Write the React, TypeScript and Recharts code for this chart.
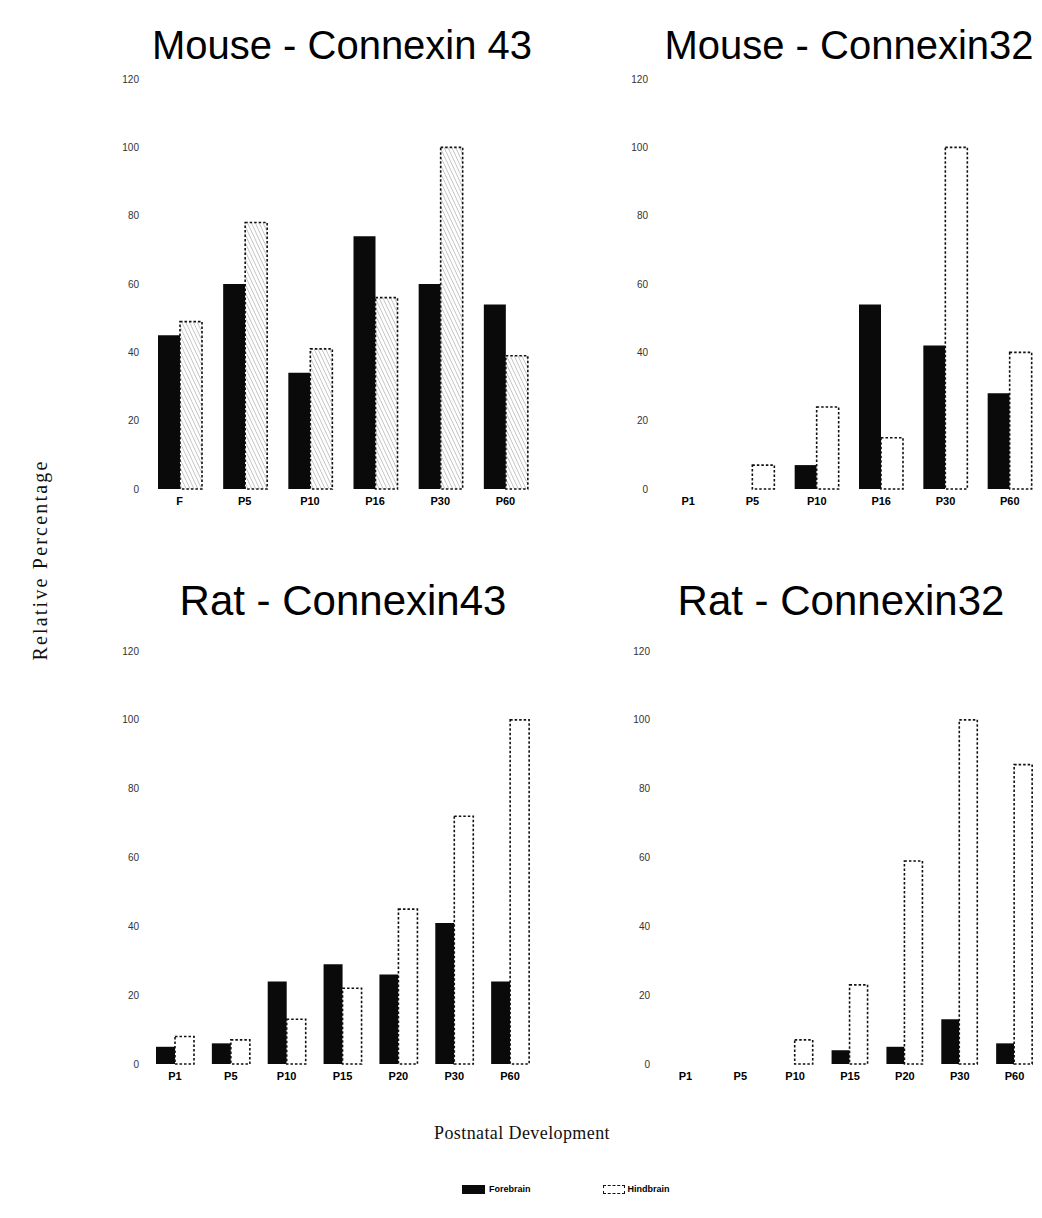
import React from "react";
import { BarChart, Bar, XAxis, YAxis } from "recharts";

// ages (postnatal days) per panel
const mouseAges43 = ["F", "P5", "P10", "P16", "P30", "P60"];
const mouseAges32 = ["P1", "P5", "P10", "P16", "P30", "P60"];
const ratAges = ["P1", "P5", "P10", "P15", "P20", "P30", "P60"];

// relative percentage, forebrain / hindbrain
const mouse43Fore = [45, 60, 34, 74, 60, 54];
const mouse43Hind = [49, 78, 41, 56, 100, 39];
const mouse32Fore = [0, 0, 7, 54, 42, 28];
const mouse32Hind = [0, 7, 24, 15, 100, 40];
const rat43Fore = [5, 6, 24, 29, 26, 41, 24];
const rat43Hind = [8, 7, 13, 22, 45, 72, 100];
const rat32Fore = [0, 0, 0, 4, 5, 13, 6];
const rat32Hind = [0, 0, 7, 23, 59, 100, 87];

const yTicks = [0, 20, 40, 60, 80, 100, 120];

const toRows = (ages: string[], fore: number[], hind: number[]) =>
  ages.map((age, i) => ({ age, fore: fore[i], hind: hind[i] }));

interface PanelProps {
  title: string;
  titleX: number;
  titleY: number;
  titleSize: number;
  data: { age: string; fore: number; hind: number }[];
  left: number;
  top: number;
  width: number;
  height: number;
  barSize: number;
  hindFill: string;
}

const Panel: React.FC<PanelProps> = ({
  title,
  titleX,
  titleY,
  titleSize,
  data,
  left,
  top,
  width,
  height,
  barSize,
  hindFill,
}) => (
  <>
    <div
      style={{
        position: "absolute",
        left: titleX - 250,
        top: titleY,
        width: 500,
        textAlign: "center",
        fontFamily: "Liberation Sans, Arial, sans-serif",
        fontSize: titleSize,
        lineHeight: "46px",
        color: "#000",
        whiteSpace: "nowrap",
      }}
    >
      {title}
    </div>
    <div style={{ position: "absolute", left, top }}>
      <BarChart
        width={width}
        height={height}
        data={data}
        margin={{ top: 19, right: 0, bottom: 0, left: 0 }}
        barGap={0}
        barSize={barSize}
      >
        <XAxis
          dataKey="age"
          axisLine={false}
          tickLine={false}
          height={30}
          interval={0}
          tick={{ fontSize: 11, fontWeight: 700, fill: "#000", fontFamily: "Liberation Sans, Arial, sans-serif" }}
        />
        <YAxis
          domain={[0, 120]}
          ticks={yTicks}
          axisLine={false}
          tickLine={false}
          width={57}
          tick={{ fontSize: 10, fill: "#333", fontFamily: "Liberation Sans, Arial, sans-serif" }}
        />
        <Bar dataKey="fore" fill="#0a0a0a" isAnimationActive={false} />
        <Bar
          dataKey="hind"
          fill={hindFill}
          stroke="#111"
          strokeWidth={1.6}
          strokeDasharray="2.5 2"
          isAnimationActive={false}
        />
      </BarChart>
    </div>
  </>
);

export default function App() {
  return (
    <div
      style={{
        position: "absolute",
        left: 0,
        top: 0,
        width: 1042,
        height: 1218,
        background: "#fff",
        overflow: "hidden",
      }}
    >
      <svg width={0} height={0} style={{ position: "absolute" }}>
        <defs>
          <pattern
            id="hatch"
            width={3.5}
            height={3.5}
            patternUnits="userSpaceOnUse"
            patternTransform="rotate(-25)"
          >
            <rect width={3.5} height={3.5} fill="#fff" />
            <line x1={0} y1={0} x2={0} y2={3.5} stroke="#8a8a8a" strokeWidth={0.9} />
          </pattern>
        </defs>
      </svg>

      <Panel
        title="Mouse - Connexin 43"
        titleX={342}
        titleY={22}
        titleSize={40}
        data={toRows(mouseAges43, mouse43Fore, mouse43Hind)}
        left={90}
        top={60}
        width={448}
        height={459}
        barSize={22}
        hindFill="url(#hatch)"
      />
      <Panel
        title="Mouse - Connexin32"
        titleX={849}
        titleY={22}
        titleSize={40}
        data={toRows(mouseAges32, mouse32Fore, mouse32Hind)}
        left={599}
        top={60}
        width={443}
        height={459}
        barSize={22}
        hindFill="#fff"
      />
      <Panel
        title="Rat - Connexin43"
        titleX={343}
        titleY={578}
        titleSize={42}
        data={toRows(ratAges, rat43Fore, rat43Hind)}
        left={90}
        top={632}
        width={448}
        height={462}
        barSize={19}
        hindFill="#fff"
      />
      <Panel
        title="Rat - Connexin32"
        titleX={841}
        titleY={578}
        titleSize={42}
        data={toRows(ratAges, rat32Fore, rat32Hind)}
        left={601}
        top={632}
        width={441}
        height={462}
        barSize={18}
        hindFill="#fff"
      />

      {/* shared axis titles */}
      <div
        style={{
          position: "absolute",
          left: 40,
          top: 560,
          transform: "translate(-50%, -50%) rotate(-90deg)",
          fontFamily: "Liberation Serif, Times New Roman, serif",
          fontSize: 20,
          letterSpacing: 2.2,
          whiteSpace: "nowrap",
          color: "#111",
        }}
      >
        Relative Percentage
      </div>
      <div
        style={{
          position: "absolute",
          left: 272,
          top: 1123,
          width: 500,
          textAlign: "center",
          fontFamily: "Liberation Serif, Times New Roman, serif",
          fontSize: 18,
          letterSpacing: 0.4,
          color: "#111",
        }}
      >
        Postnatal Development
      </div>

      {/* legend */}
      <div
        style={{
          position: "absolute",
          left: 462,
          top: 1184,
          display: "flex",
          alignItems: "center",
          fontFamily: "Liberation Sans, Arial, sans-serif",
          fontSize: 9,
          fontWeight: 700,
        }}
      >
        <span style={{ display: "inline-block", width: 23, height: 9, background: "#0a0a0a" }} />
        <span style={{ marginLeft: 4 }}>Forebrain</span>
        <span
          style={{
            display: "inline-block",
            width: 20,
            height: 7,
            border: "1px dashed #111",
            marginLeft: 72,
          }}
        />
        <span style={{ marginLeft: 3 }}>Hindbrain</span>
      </div>
    </div>
  );
}
